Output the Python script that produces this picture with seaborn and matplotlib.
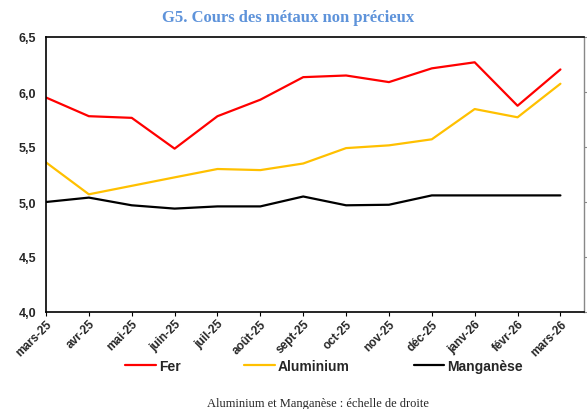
import matplotlib
matplotlib.use("Agg")
import matplotlib.pyplot as plt
import seaborn as sns
import pandas as pd
from matplotlib.ticker import FuncFormatter
from matplotlib.lines import Line2D

months = ["mars-25", "avr-25", "mai-25", "juin-25", "juil-25", "août-25", "sept-25",
          "oct-25", "nov-25", "déc-25", "janv-26", "févr-26", "mars-26"]
fer = [5.95, 5.78, 5.765, 5.485, 5.78, 5.93, 6.135, 6.15, 6.09, 6.215, 6.27, 5.875, 6.205]
aluminium = [5.36, 5.07, 5.147, 5.224, 5.30, 5.29, 5.35, 5.49, 5.515, 5.57, 5.845, 5.77, 6.075]
manganese = [5.00, 5.04, 4.97, 4.94, 4.96, 4.96, 5.05, 4.97, 4.975, 5.06, 5.06, 5.06, 5.06]
series_names = ["Fer", "Aluminium", "Manganèse"]
colors = ["#FF0000", "#FFC000", "#000000"]

rows = []
for name, vals in zip(series_names, [fer, aluminium, manganese]):
    for m, v in zip(months, vals):
        rows.append({"mois": m, "valeur": v, "serie": name})
df = pd.DataFrame(rows)

sns.set_style("white")
plt.rcParams["font.family"] = ["Liberation Sans", "DejaVu Sans"]

fig = plt.figure(figsize=(5.87, 4.10), dpi=100)
ax = fig.add_axes([46/587, 1-313/410, (584-46)/587, (313-38)/410])

sns.lineplot(data=df, x="mois", y="valeur", hue="serie", palette=colors,
             hue_order=series_names, sort=False, linewidth=1.6, ax=ax, legend=False)

ax.set_xlim(0, 12.55)
ax.set_ylim(4.0, 6.5)
ax.set_yticks([4.0, 4.5, 5.0, 5.5, 6.0, 6.5])
ax.yaxis.set_major_formatter(FuncFormatter(lambda v, p: f"{v:.1f}".replace(".", ",")))
ax.set_xlabel("")
ax.set_ylabel("")

for s in ["left", "bottom", "top"]:
    ax.spines[s].set_color("black")
    ax.spines[s].set_linewidth(1.2)
ax.spines["right"].set_color("#888888")
ax.spines["right"].set_linewidth(1.0)

ax.tick_params(axis="y", left=False, right=True, labelright=False, direction="out",
               length=3, color="#888888", labelsize=9, pad=4)
ax.tick_params(axis="x", bottom=True, direction="out", length=3, color="black",
               labelsize=8.5, pad=1)
for lab in ax.get_yticklabels():
    lab.set_fontweight("bold")
for lab in ax.get_xticklabels():
    lab.set_fontweight("bold")
    lab.set_rotation(45)
    lab.set_ha("right")
    lab.set_rotation_mode("anchor")

fig.text(288/587, 1-18/410, "G5. Cours des métaux non précieux", ha="center", va="center",
         fontsize=12, fontweight="bold", color="#5E93DA", family="Liberation Serif")

handles = [Line2D([0], [0], color=c, lw=1.6) for c in colors]
leg = fig.legend(handles, series_names, loc="center", bbox_to_anchor=(324/587, 1-367/410),
                 ncol=3, frameon=False, handlelength=2.2, handletextpad=0.2,
                 columnspacing=4.6, prop={"weight": "bold", "size": 10})

fig.text(318/587, 1-404/410, "Aluminium et Manganèse : échelle de droite", ha="center",
         va="center", fontsize=9, family="Liberation Serif")

fig.savefig("out.png", dpi=100)
